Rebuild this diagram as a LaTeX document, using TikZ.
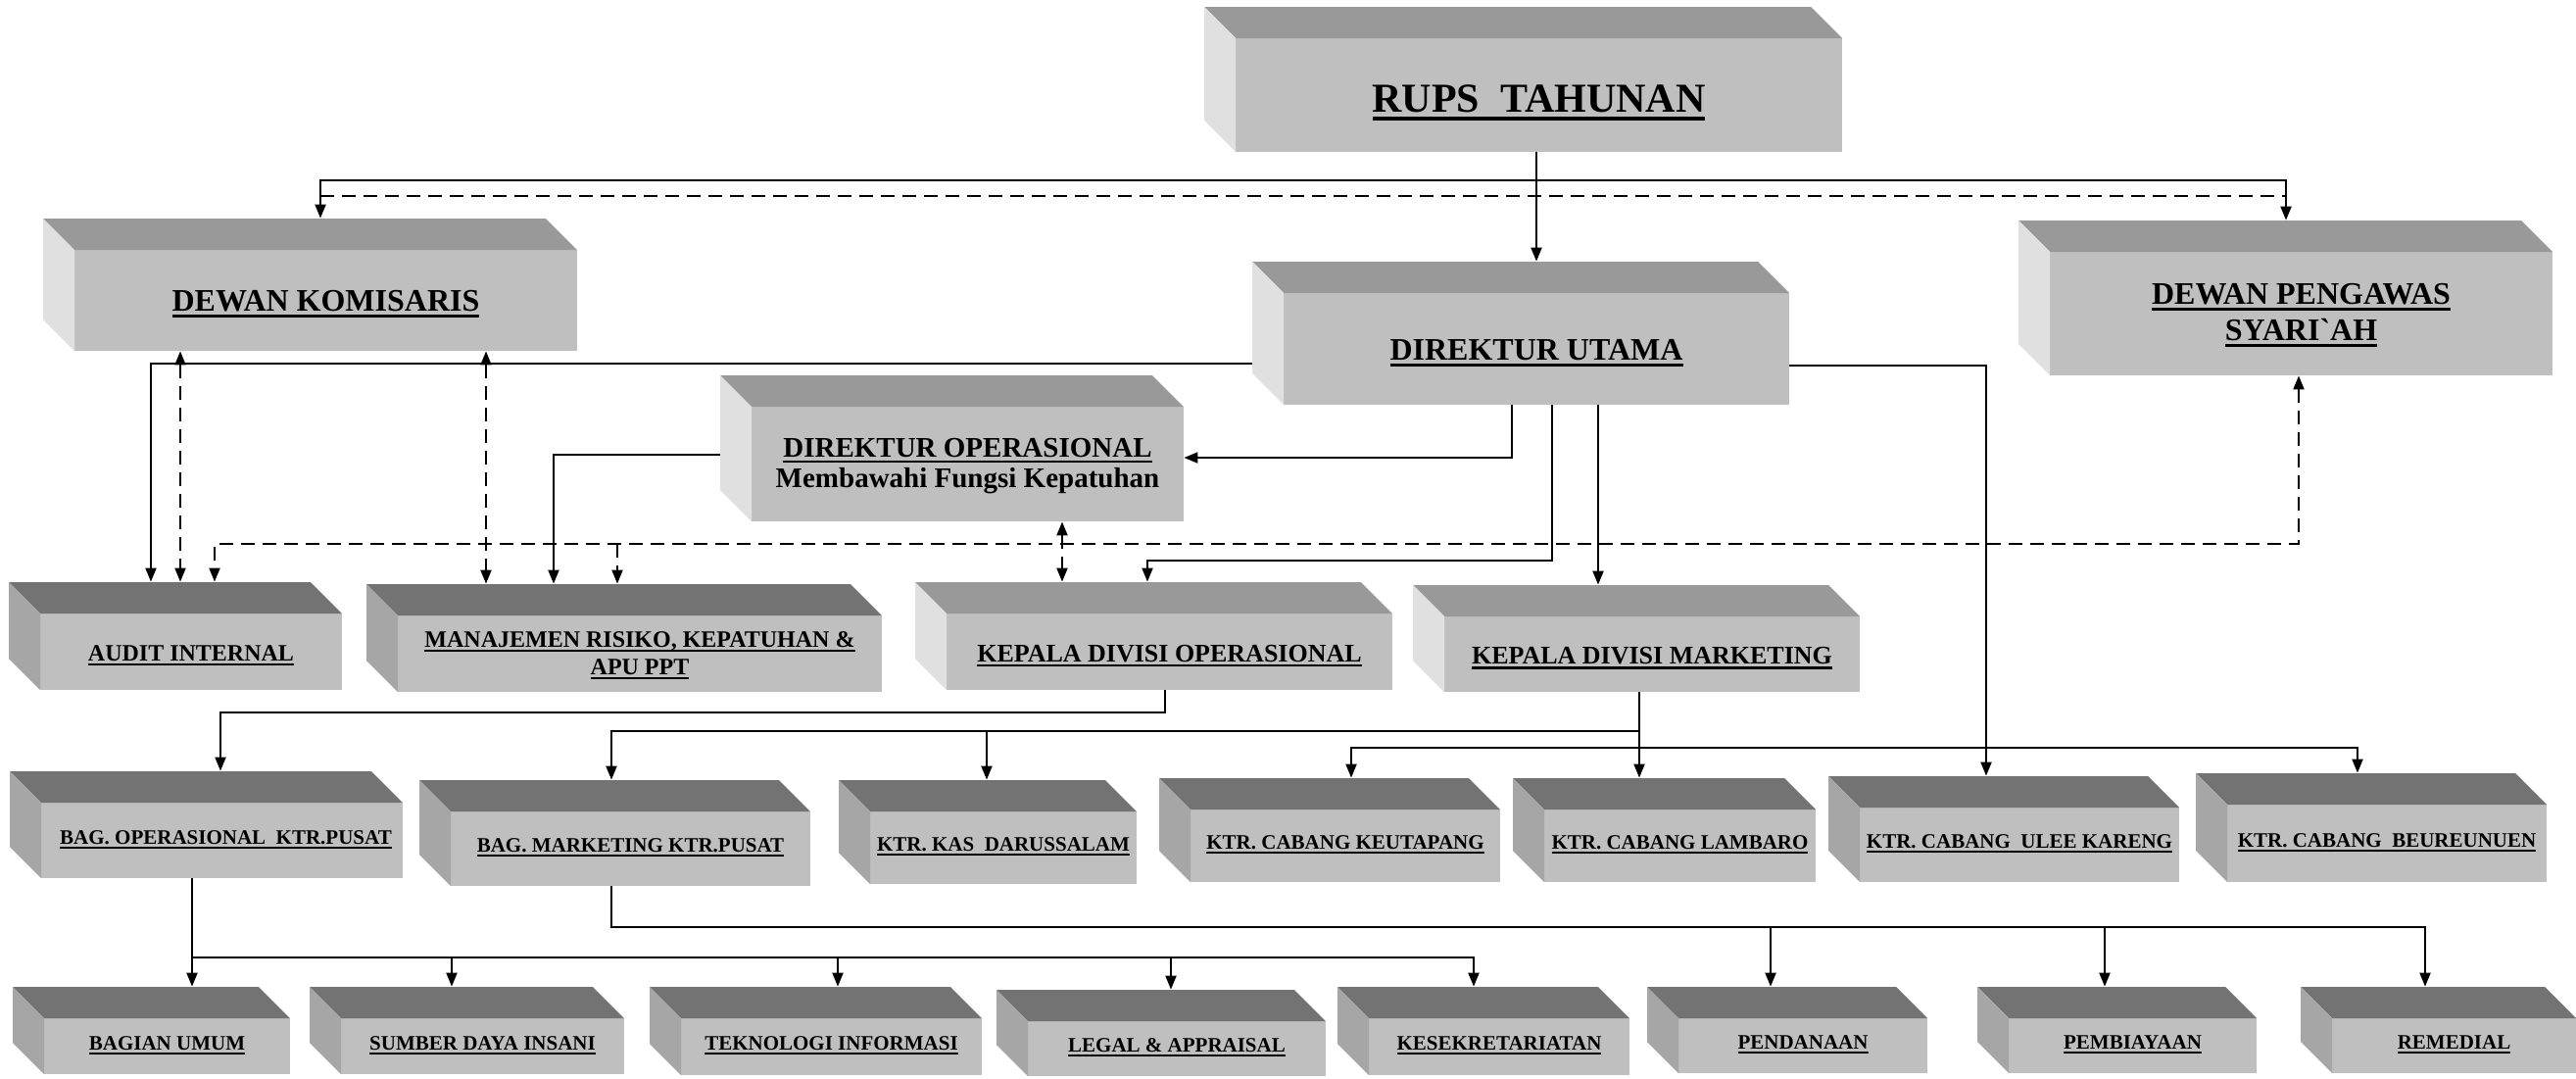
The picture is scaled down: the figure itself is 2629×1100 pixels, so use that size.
\documentclass[tikz,border=0pt]{standalone}
\usepackage{fontspec}
\setmainfont{Liberation Serif}
\usetikzlibrary{arrows.meta}

\newcommand{\garisbawah}[1]{\setbox0\hbox{#1}\leavevmode\hbox{\rlap{\copy0}\vrule width\wd0 height-0.11em depth0.2em}}

\definecolor{muka}{gray}{0.75}
\definecolor{atasA}{gray}{0.6}
\definecolor{sisiA}{gray}{0.88}
\definecolor{atasB}{gray}{0.45}
\definecolor{sisiB}{gray}{0.65}

\begin{document}
\begin{tikzpicture}[x=0.5pt,y=-0.5pt,>={Triangle[length=7pt,width=5.5pt]},
	kotak/.style 2 args={rectangle, inner sep=0pt, path picture={
		\fill[muka] ([xshift=16pt]path picture bounding box.south west) rectangle ([yshift=-16pt]path picture bounding box.north east);
		\fill[#1] (path picture bounding box.north west) -- ([xshift=-16pt]path picture bounding box.north east) -- ([yshift=-16pt]path picture bounding box.north east) -- ([xshift=16pt,yshift=-16pt]path picture bounding box.north west) -- cycle;
		\fill[#2] (path picture bounding box.north west) -- ([xshift=16pt,yshift=-16pt]path picture bounding box.north west) -- ([xshift=16pt]path picture bounding box.south west) -- ([yshift=16pt]path picture bounding box.south west) -- cycle;}},
	kotakatas/.style={kotak={atasA}{sisiA}},
	kotakbawah/.style={kotak={atasB}{sisiB}},
	ukuran/.style 2 args={minimum width=#1*0.5pt, minimum height=#2*0.5pt},
	teks/.style={align=center, inner sep=0pt},
	h21/.style={font=\fontsize{21}{24}\selectfont\bfseries},
	h16/.style={font=\fontsize{16}{18.5}\selectfont\bfseries},
	h14/.style={font=\fontsize{14.5}{15.5}\selectfont\bfseries},
	h13/.style={font=\fontsize{13}{15}\selectfont\bfseries},
	h12/.style={font=\fontsize{12}{14}\selectfont\bfseries},
	h10/.style={font=\fontsize{10.5}{12}\selectfont\bfseries},
	panah/.style={->, line width=1pt},
	putus/.style={line width=1pt, dash pattern=on 7pt off 4pt}]
	\useasboundingbox (0,0) rectangle (2629,1100);
	\fill[white] (0,0) rectangle (2629,1100);

	% kotak-kotak
	\node[kotakatas, ukuran={651}{148}] (rups) at (1554.5,81) {};
	\node[kotakatas, ukuran={545}{135}] (dekom) at (316.5,290.5) {};
	\node[kotakatas, ukuran={548}{146}] (dirut) at (1552,340) {};
	\node[kotakatas, ukuran={545}{158}] (dps) at (2332.5,304) {};
	\node[kotakatas, ukuran={473}{149}] (dirop) at (971.5,457.5) {};
	\node[kotakatas, ukuran={487}{110}] (kdo) at (1177.5,649) {};
	\node[kotakatas, ukuran={456}{109}] (kdm) at (1670,651.5) {};
	\node[kotakbawah, ukuran={340}{110}] (audit) at (179,649) {};
	\node[kotakbawah, ukuran={526}{110}] (mrk) at (637,651) {};
	\node[kotakbawah, ukuran={401}{109}] (bagop) at (210.5,841.5) {};
	\node[kotakbawah, ukuran={399}{108}] (bagmar) at (627.5,850) {};
	\node[kotakbawah, ukuran={304}{106}] (kas) at (1008,849) {};
	\node[kotakbawah, ukuran={348}{106}] (keutapang) at (1357,847) {};
	\node[kotakbawah, ukuran={309}{106}] (lambaro) at (1698.5,847) {};
	\node[kotakbawah, ukuran={358}{108}] (ulee) at (2045,846) {};
	\node[kotakbawah, ukuran={358}{111}] (beureunuen) at (2420,844.5) {};
	\node[kotakbawah, ukuran={283}{89}] (umum) at (154.5,1051.5) {};
	\node[kotakbawah, ukuran={321}{89}] (sdi) at (476.5,1051.5) {};
	\node[kotakbawah, ukuran={339}{90}] (ti) at (832.5,1052) {};
	\node[kotakbawah, ukuran={336}{88}] (legal) at (1185,1054) {};
	\node[kotakbawah, ukuran={298}{90}] (sekre) at (1514,1052) {};
	\node[kotakbawah, ukuran={286}{88}] (dana) at (1824,1051) {};
	\node[kotakbawah, ukuran={285}{88}] (biaya) at (2160.5,1051) {};
	\node[kotakbawah, ukuran={281}{88}] (remedial) at (2488.5,1051) {};

	% tulisan
	\node[teks,h21] (rups-t) at ([xshift=8pt,yshift=-12pt]rups.center) {\garisbawah{RUPS\ \ TAHUNAN}};
	\node[teks,h16] (dekom-t) at ([xshift=8pt,yshift=-10pt]dekom.center) {\garisbawah{DEWAN KOMISARIS}};
	\node[teks,h16] (dirut-t) at ([xshift=8pt,yshift=-10pt]dirut.center) {\garisbawah{DIREKTUR UTAMA}};
	\node[teks,h16] (dps-t) at ([xshift=8pt,yshift=-9pt]dps.center) {\garisbawah{DEWAN PENGAWAS}\\\garisbawah{SYARI\textasciigrave AH}};
	\node[teks,h14] (dirop-t) at ([xshift=8pt,yshift=-9pt]dirop.center) {\garisbawah{DIREKTUR OPERASIONAL}\\Membawahi Fungsi Kepatuhan};
	\node[teks,h13] (kdo-t) at ([xshift=8pt,yshift=-10pt]kdo.center) {\garisbawah{KEPALA DIVISI OPERASIONAL}};
	\node[teks,h13] (kdm-t) at ([xshift=8pt,yshift=-10pt]kdm.center) {\garisbawah{KEPALA DIVISI MARKETING}};
	\node[teks,h12] (audit-t) at ([xshift=8pt,yshift=-10pt]audit.center) {\garisbawah{AUDIT INTERNAL}};
	\node[teks,h12] (mrk-t) at ([xshift=8pt,yshift=-9pt]mrk.center) {\garisbawah{MANAJEMEN RISIKO, KEPATUHAN \&}\\\garisbawah{APU PPT}};
	\node[teks,h10] (bagop-t) at ([xshift=10pt,yshift=-7.5pt]bagop.center) {\garisbawah{BAG. OPERASIONAL\ \ KTR.PUSAT}};
	\node[teks,h10] (bagmar-t) at ([xshift=8pt,yshift=-7.5pt]bagmar.center) {\garisbawah{BAG. MARKETING KTR.PUSAT}};
	\node[teks,h10] (kas-t) at ([xshift=8pt,yshift=-7.5pt]kas.center) {\garisbawah{KTR. KAS\ \ DARUSSALAM}};
	\node[teks,h10] (keutapang-t) at ([xshift=8pt,yshift=-7.5pt]keutapang.center) {\garisbawah{KTR. CABANG KEUTAPANG}};
	\node[teks,h10] (lambaro-t) at ([xshift=8pt,yshift=-7.5pt]lambaro.center) {\garisbawah{KTR. CABANG LAMBARO}};
	\node[teks,h10] (ulee-t) at ([xshift=8pt,yshift=-7.5pt]ulee.center) {\garisbawah{KTR. CABANG\ \ ULEE KARENG}};
	\node[teks,h10] (beureunuen-t) at ([xshift=8pt,yshift=-7.5pt]beureunuen.center) {\garisbawah{KTR. CABANG\ \ BEUREUNUEN}};
	\node[teks,h10] (umum-t) at ([xshift=8pt,yshift=-7.5pt]umum.center) {\garisbawah{BAGIAN UMUM}};
	\node[teks,h10] (sdi-t) at ([xshift=8pt,yshift=-7.5pt]sdi.center) {\garisbawah{SUMBER DAYA INSANI}};
	\node[teks,h10] (ti-t) at ([xshift=8pt,yshift=-7.5pt]ti.center) {\garisbawah{TEKNOLOGI INFORMASI}};
	\node[teks,h10] (legal-t) at ([xshift=8pt,yshift=-7.5pt]legal.center) {\garisbawah{LEGAL \& APPRAISAL}};
	\node[teks,h10] (sekre-t) at ([xshift=8pt,yshift=-7.5pt]sekre.center) {\garisbawah{KESEKRETARIATAN}};
	\node[teks,h10] (dana-t) at ([xshift=8pt,yshift=-7.5pt]dana.center) {\garisbawah{PENDANAAN}};
	\node[teks,h10] (biaya-t) at ([xshift=8pt,yshift=-7.5pt]biaya.center) {\garisbawah{PEMBIAYAAN}};
	\node[teks,h10] (remedial-t) at ([xshift=8pt,yshift=-7.5pt]remedial.center) {\garisbawah{REMEDIAL}};

	% garis dari rups
	\coordinate (t1) at (1568,184);
	\coordinate (d1) at (327,200);
	\coordinate (d2) at (2333,200);
	\draw[panah] (1568,0 |- rups.south) -- (1568,0 |- dirut.north);
	\draw[panah] (t1) -| (327,0 |- dekom.north);
	\draw[panah] (t1) -| (2333,0 |- dps.north);
	\draw[putus] (d1) -- (d2);

	% pengawasan
	\draw[panah] (dirut.west |- 0,371) -| (154,0 |- audit.north);
	\draw[putus,<->] (184,0 |- dekom.south) -- (184,0 |- audit.north);
	\draw[putus,<->] (496,0 |- dekom.south) -- (496,0 |- mrk.north);
	\draw[panah] (dirop.west |- 0,464) -| (565,0 |- mrk.north);
	\draw[putus,<->] (2346,0 |- dps.south) -- (2346,555) -| (219,0 |- audit.north);
	\coordinate (d3) at (630,555);
	\draw[putus,->] (d3) -- (630,0 |- mrk.north);
	\draw[putus,<->] (1084,0 |- dirop.south) -- (1084,0 |- kdo.north);

	% garis dari direktur utama
	\draw[panah] (1543,0 |- dirut.south) |- (dirop.east |- 0,467);
	\draw[panah] (1584,0 |- dirut.south) -- (1584,572) -| (1171,0 |- kdo.north);
	\draw[panah] (1631,0 |- dirut.south) -- (1631,0 |- kdm.north);
	\draw[panah] (dirut.east |- 0,373) -| (2027,0 |- ulee.north);

	% kepala divisi
	\draw[panah] (1189,0 |- kdo.south) -- (1189,727) -| (225,0 |- bagop.north);
	\draw[panah] (1673,0 |- kdm.south) -- (1673,746) -| (624,0 |- bagmar.north);
	\coordinate (t2) at (1007,746);
	\draw[panah] (t2) -- (1007,0 |- kas.north);
	\draw[panah] (1673,0 |- kdm.south) -- (1673,0 |- lambaro.north);
	\coordinate (t3) at (1673,763);
	\draw[panah] (t3) -| (1379,0 |- keutapang.north);
	\draw[panah] (t3) -| (2406,0 |- beureunuen.north);

	% bagian marketing
	\draw[panah] (624,0 |- bagmar.south) -- (624,946) -| (2475,0 |- remedial.north);
	\coordinate (t4) at (1807,946);
	\coordinate (t5) at (2148,946);
	\draw[panah] (t4) -- (1807,0 |- dana.north);
	\draw[panah] (t5) -- (2148,0 |- biaya.north);

	% bagian operasional
	\draw[panah] (196,0 |- bagop.south) -- (196,0 |- umum.north);
	\coordinate (t6) at (196,977);
	\draw[panah] (t6) -| (1504,0 |- sekre.north);
	\draw[panah] (461,977) -- (461,0 |- sdi.north);
	\draw[panah] (855,977) -- (855,0 |- ti.north);
	\draw[panah] (1195,977) -- (1195,0 |- legal.north);
\end{tikzpicture}
\end{document}
